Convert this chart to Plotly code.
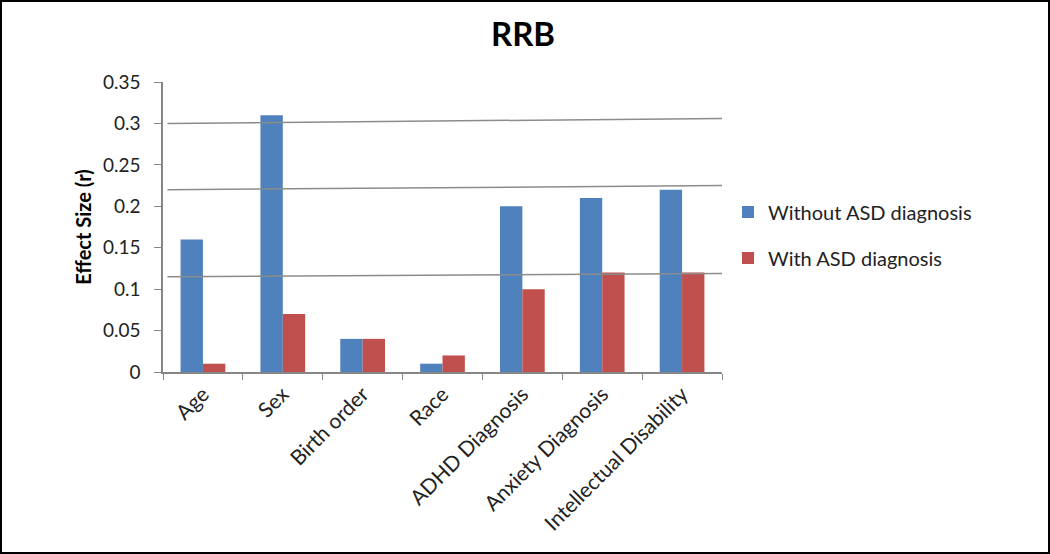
import plotly.graph_objects as go

categories = ["Age", "Sex", "Birth order", "Race", "ADHD Diagnosis", "Anxiety Diagnosis", "Intellectual Disability"]
without_asd = [0.16, 0.31, 0.04, 0.01, 0.20, 0.21, 0.22]
with_asd = [0.01, 0.07, 0.04, 0.02, 0.10, 0.12, 0.12]
y_ticks = [0, 0.05, 0.1, 0.15, 0.2, 0.25, 0.3, 0.35]
y_tick_text = ["0", "0.05", "0.1", "0.15", "0.2", "0.25", "0.3", "0.35"]
# hand-drawn reference lines (left value, right value)
ref_lines = [(0.300, 0.306), (0.220, 0.225), (0.115, 0.119)]

FONT = "Lato, Calibri, sans-serif"

fig = go.Figure()
fig.add_trace(go.Bar(x=categories, y=without_asd, name="Without ASD diagnosis",
                     marker=dict(color="#4F81BD", line=dict(width=0)), legendgroup="a"))
fig.add_trace(go.Bar(x=categories, y=with_asd, name="With ASD diagnosis",
                     marker=dict(color="#C0504D", line=dict(width=0)), legendgroup="b"))

W, H = 1050, 554
L, R, T, B = 163, 328, 82, 182
pw, ph = W - L - R, H - T - B

shapes = []
for y0, y1 in ref_lines:
    shapes.append(dict(type="line", xref="x domain", yref="y", x0=0.008, x1=1.0,
                       y0=y0, y1=y1, line=dict(color="#8C8C8C", width=1.5)))
shapes.append(dict(type="rect", xref="paper", yref="paper",
                   x0=-(L - 1) / pw, x1=(W - 1 - L) / pw,
                   y0=-(B - 1) / ph, y1=(H - B - 1) / ph,
                   line=dict(color="black", width=2)))

fig.update_layout(
    width=W, height=H,
    margin=dict(l=L, r=R, t=T, b=B),
    paper_bgcolor="white", plot_bgcolor="white",
    font=dict(family=FONT, color="#222222"),
    title=dict(text="<b>RRB</b>", x=(523 - L) / pw, xref="paper", xanchor="center",
               y=1 - 34 / H, yanchor="middle", font=dict(size=33, color="black", family=FONT)),
    barmode="group", bargap=0.44, bargroupgap=0,
    showlegend=True,
    legend=dict(x=(728 - L) / pw, xanchor="left", y=(H - B - 235) / ph, yanchor="middle",
                font=dict(size=20, color="#222222", family=FONT),
                tracegroupgap=17, bgcolor="rgba(0,0,0,0)"),
    shapes=shapes,
)
fig.update_xaxes(showline=True, linecolor="#868686", linewidth=1.5,
                 ticks="outside", ticklen=6, tickcolor="#868686", tickson="boundaries",
                 tickangle=-45, tickfont=dict(size=21, color="#222222", family=FONT),
                 showgrid=False)
fig.update_yaxes(range=[0, 0.35], tickvals=y_ticks, ticktext=y_tick_text,
                 showline=True, linecolor="#868686", linewidth=1.5,
                 ticks="outside", ticklen=7, tickcolor="#868686",
                 ticklabelstandoff=10,
                 tickfont=dict(size=19, color="#222222", family=FONT),
                 showgrid=False, zeroline=False,
                 title=dict(text="<b>Effect Size (r)</b>", font=dict(size=20, color="black", family=FONT),
                            standoff=6))

fig.write_html("out.html", config={"displayModeBar": False},
               post_script="document.body.style.margin='0';")
